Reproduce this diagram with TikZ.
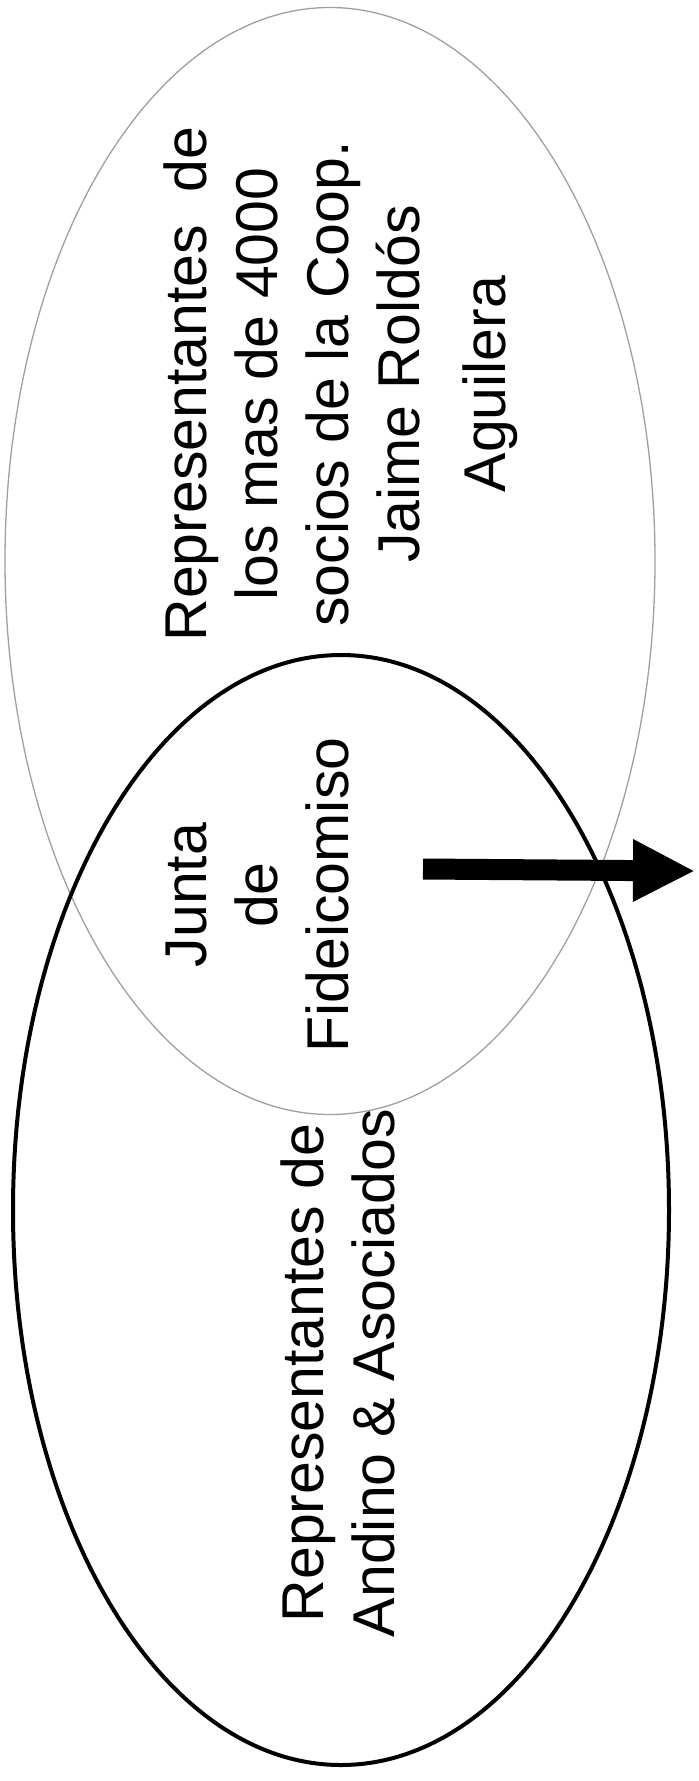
\documentclass[tikz,border=0pt]{standalone}
\usepackage{fontspec}
\setmainfont{Liberation Sans}
\usetikzlibrary{shapes.geometric,arrows.meta}
\begin{document}
\begin{tikzpicture}[x=1pt,y=1pt,
  upperell/.style={draw=gray!75, line width=1.3pt, ellipse, inner sep=0pt},
  lowerell/.style={draw=black, line width=4pt, ellipse, inner sep=0pt},
  lbl/.style={rotate=90, align=center, inner sep=0pt, font=\fontsize{59}{71}\selectfont},
  bigarrow/.style={line width=21pt, -{Triangle[length=62pt,width=58pt]}}]
\useasboundingbox (0,0) rectangle (699,-1781);
\node[upperell, minimum width=650pt, minimum height=1107pt] (socios) at (330,-561) {};
\node[lowerell, minimum width=656pt, minimum height=1110pt] (andino) at (341,-1210) {};
\node[lbl] (tsocios) at (341.3,-384) {\strut Representantes\ \ de\\ \strut los mas de 4000\\ \strut socios de la Coop.\\ \strut Jaime Roldós\\[15pt] \strut Aguilera};
\node[lbl] (tjunta) at (262.8,-895) {\strut Junta\\ \strut de\\ \strut Fideicomiso};
\node[lbl] (tandino) at (344.8,-1373) {\strut Representantes de\\ \strut Andino \& Asociados};
\coordinate (arrowstart) at (423,-869);
\coordinate (arrowend) at (695,-871);
\draw[bigarrow] (arrowstart) -- (arrowend);
\end{tikzpicture}
\end{document}
